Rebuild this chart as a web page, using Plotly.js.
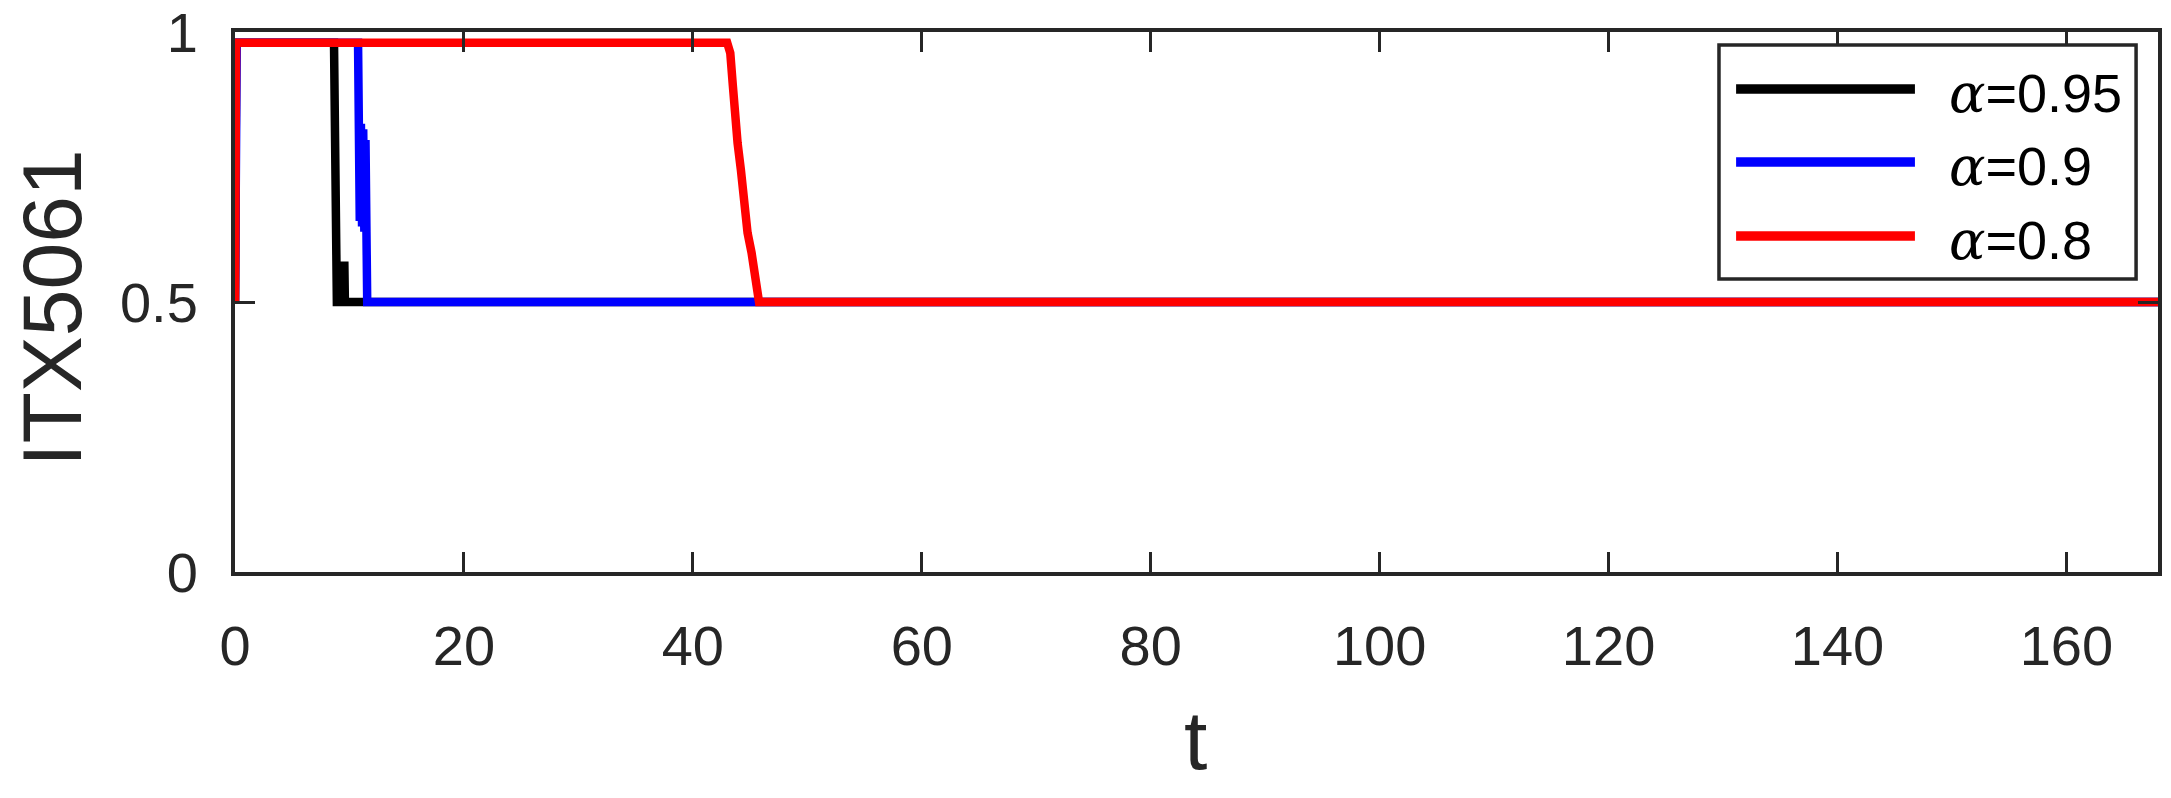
<!DOCTYPE html>
<html>
<head>
<meta charset="utf-8">
<script src="https://cdn.plot.ly/plotly-3.0.1.min.js"></script>
<style>html,body{margin:0;padding:0;background:#fff;}#chart{width:2171px;height:798px;}</style>
</head>
<body>
<div id="chart"></div>
<script>
// ---- data ----
const seriesNames = ['α=0.95', 'α=0.9', 'α=0.8'];
const alphaValues = [0.95, 0.9, 0.8];
const seriesColors = ['#000000', '#0000ff', '#ff0000'];

const tBlack = [0, 0.1, 8.65, 8.72, 8.8, 8.9, 9.42, 9.47, 9.55, 9.6, 168];
const vBlack = [0.5, 0.98, 0.98, 0.76, 0.6, 0.5, 0.5, 0.575, 0.575, 0.5, 0.5];

const tBlue = [0, 0.15, 10.75, 10.8, 10.9, 11.0, 11.1, 11.2, 11.3, 11.4, 11.5, 11.55, 168];
const vBlue = [0.5, 0.98, 0.98, 0.83, 0.65, 0.83, 0.64, 0.82, 0.63, 0.8, 0.62, 0.5, 0.5];

const tRed = [0, 0.1, 43.0, 43.27, 43.5, 43.68, 43.91, 44.2, 44.43, 44.78, 45.13, 45.48, 45.78, 168];
const vRed = [0.5, 0.98, 0.98, 0.961, 0.899, 0.837, 0.794, 0.744, 0.683, 0.628, 0.591, 0.541, 0.5, 0.5];

const xTickVals = [0, 20, 40, 60, 80, 100, 120, 140, 160];
const xTickText = ['0', '20', '40', '60', '80', '100', '120', '140', '160'];
const yTickVals = [0, 0.5, 1];
const yTickText = ['0', '0.5', '1'];
const xTitle = 't';
const yTitle = 'ITX5061';

// ---- figure ----
const xs = [tBlack, tBlue, tRed];
const ys = [vBlack, vBlue, vRed];
const traces = xs.map((x, i) => ({
  type: 'scatter', mode: 'lines', x: x, y: ys[i], name: seriesNames[i],
  line: {color: seriesColors[i], width: 8.5, shape: 'linear'},
  showlegend: false, hoverinfo: 'skip'
}));

const axisColor = '#262626';
const font = "'Liberation Sans', Arial, Helvetica, sans-serif";

// custom legend (paper coordinates)
const legBox = {x0: 0.7717, x1: 0.9886, y0: 0.5426, y1: 0.9759};
const legLineX = [0.7806, 0.8736];
const legRowY = [0.8944, 0.7593, 0.6222];
const legTextX = 0.8903;
const legTextDy = -0.009;

const shapes = [{
  type: 'rect', xref: 'paper', yref: 'paper',
  x0: legBox.x0, x1: legBox.x1, y0: legBox.y0, y1: legBox.y1,
  fillcolor: '#ffffff', line: {color: axisColor, width: 3.5}, layer: 'above'
}];
const annotations = [];
seriesNames.forEach((n, i) => {
  shapes.push({
    type: 'line', xref: 'paper', yref: 'paper',
    x0: legLineX[0], x1: legLineX[1], y0: legRowY[i], y1: legRowY[i],
    line: {color: seriesColors[i], width: 9.5}, layer: 'above'
  });
  annotations.push({
    xref: 'paper', yref: 'paper', x: legTextX, y: legRowY[i] + legTextDy,
    xanchor: 'left', yanchor: 'middle', showarrow: false,
    text: "<span style=\"font-family:'DejaVu Serif'\"><i>α</i></span>=" + alphaValues[i],
    font: {family: font, size: 54, color: '#000000'}
  });
});
// axis titles placed as annotations
annotations.push({
  xref: 'paper', yref: 'paper', x: -0.0952, y: 0.489,
  xanchor: 'center', yanchor: 'middle', textangle: -90, showarrow: false,
  text: yTitle, font: {family: font, size: 84, color: axisColor}
});
annotations.push({
  xref: 'paper', yref: 'paper', x: 0.4995, y: -0.312,
  xanchor: 'center', yanchor: 'middle', showarrow: false,
  text: xTitle, font: {family: font, size: 84, color: axisColor}
});

const layout = {
  width: 2171, height: 798,
  margin: {l: 235, r: 13, t: 32, b: 226, pad: 0},
  paper_bgcolor: '#ffffff', plot_bgcolor: '#ffffff',
  showlegend: false,
  xaxis: {
    range: [0, 168], tickvals: xTickVals, ticktext: xTickText,
    ticks: 'inside', ticklen: 20, tickwidth: 3, tickcolor: axisColor,
    showline: true, linewidth: 4, linecolor: axisColor, mirror: 'ticks',
    showgrid: false, zeroline: false,
    tickfont: {family: font, size: 56, color: axisColor},
    ticklabelstandoff: 22
  },
  yaxis: {
    range: [0, 1], tickvals: yTickVals, ticktext: yTickText,
    ticks: 'inside', ticklen: 20, tickwidth: 3, tickcolor: axisColor,
    showline: true, linewidth: 4, linecolor: axisColor, mirror: 'ticks',
    showgrid: false, zeroline: false,
    tickfont: {family: font, size: 56, color: axisColor},
    ticklabelstandoff: 22
  },
  shapes: shapes,
  annotations: annotations
};

Plotly.newPlot('chart', traces, layout, {staticPlot: true, displayModeBar: false});
</script>
</body>
</html>
